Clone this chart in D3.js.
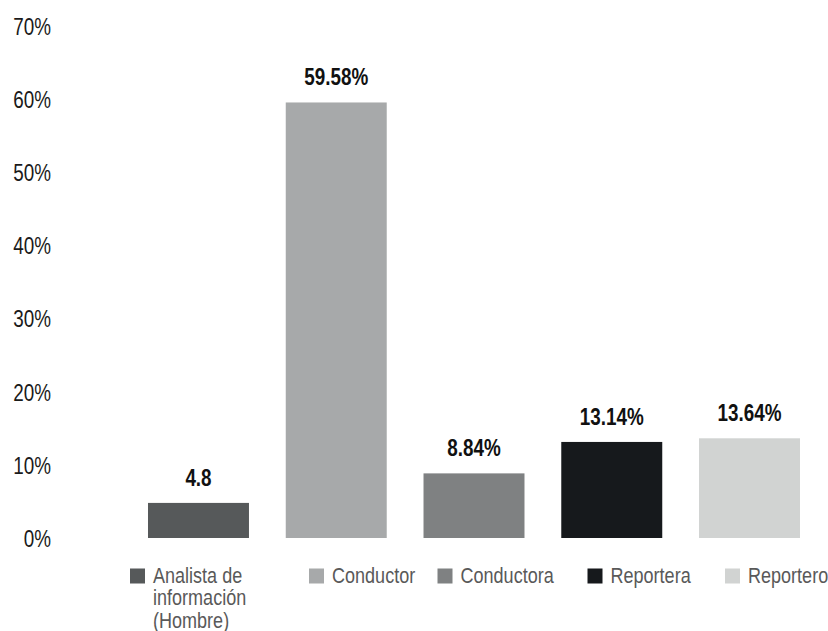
<!DOCTYPE html>
<html>
<head>
<meta charset="utf-8">
<script src="https://cdn.jsdelivr.net/npm/d3@7"></script>
<style>
  html, body { margin: 0; padding: 0; background: #ffffff; }
  svg { display: block; }
  text { font-family: "Liberation Sans", Arial, sans-serif; }
</style>
</head>
<body>
<svg id="chart" width="828" height="631"></svg>
<script>
const categories = ["Analista de información (Hombre)", "Conductor", "Conductora", "Reportera", "Reportero"];
const values = [4.8, 59.58, 8.84, 13.14, 13.64];
const valueLabels = ["4.8", "59.58%", "8.84%", "13.14%", "13.64%"];
const colors = ["#56595a", "#a7a9aa", "#7f8182", "#16191c", "#d1d3d2"];
const legendLines = [["Analista de", "información", "(Hombre)"], ["Conductor"], ["Conductora"], ["Reportera"], ["Reportero"]];
const yTicks = [0, 10, 20, 30, 40, 50, 60, 70];

const NARROW = 0.82;
const svg = d3.select("#chart");

const x = d3.scaleBand()
  .domain(categories)
  .range([129.6, 818.4])
  .paddingInner(0.267)
  .paddingOuter(0.1335);

const y = d3.scaleLinear()
  .domain([0, 70])
  .range([538, 26.3]);

// Y axis (labels only)
const yAxis = d3.axisLeft(y)
  .tickValues(yTicks)
  .tickFormat(d => d + "%")
  .tickSize(0)
  .tickPadding(0);

const yG = svg.append("g")
  .attr("transform", "translate(51,0)")
  .call(yAxis);
yG.select(".domain").remove();
yG.selectAll("text")
  .attr("font-family", "'Liberation Sans', Arial, sans-serif")
  .attr("font-size", 23)
  .attr("fill", "#1a1a1a")
  .attr("x", 0)
  .attr("dy", "0.36em")
  .attr("transform", `scale(${NARROW},1)`);

// Bars
svg.append("g")
  .selectAll("rect")
  .data(values)
  .join("rect")
  .attr("x", (d, i) => x(categories[i]))
  .attr("y", d => y(d))
  .attr("width", x.bandwidth())
  .attr("height", d => y(0) - y(d))
  .attr("fill", (d, i) => colors[i]);

// Value labels
svg.append("g")
  .selectAll("g")
  .data(values)
  .join("g")
  .attr("transform", (d, i) => `translate(${x(categories[i]) + x.bandwidth() / 2},${y(d) - 17})`)
  .append("text")
  .attr("transform", `scale(${NARROW},1)`)
  .attr("text-anchor", "middle")
  .attr("font-size", 23)
  .attr("font-weight", "bold")
  .attr("fill", "#111111")
  .text((d, i) => valueLabels[i]);

// Legend
const legendX = [130, 309, 437.5, 587.5, 725];
const legendTop = 568.5;
const lineGap = 22.3;
const lg = svg.append("g");
categories.forEach((c, i) => {
  const g = lg.append("g").attr("transform", `translate(${legendX[i]},${legendTop})`);
  g.append("rect")
    .attr("width", 15)
    .attr("height", 15)
    .attr("fill", colors[i]);
  legendLines[i].forEach((line, j) => {
    g.append("g")
      .attr("transform", `translate(23,${14.5 + j * lineGap}) scale(${NARROW},1)`)
      .append("text")
      .attr("font-size", 22)
      .attr("fill", "#595959")
      .text(line);
  });
});
</script>
</body>
</html>
